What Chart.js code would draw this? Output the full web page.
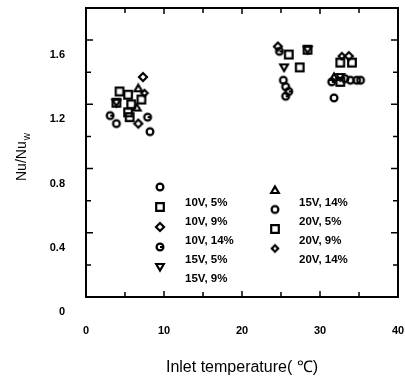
<!DOCTYPE html>
<html>
<head>
<meta charset="utf-8">
<script src="https://cdn.jsdelivr.net/npm/chart.js@4.4.0/dist/chart.umd.min.js"></script>
<style>
  html,body{margin:0;padding:0;background:#fff}
</style>
</head>
<body>
<canvas id="chart" width="405" height="380"></canvas>
<script>
// -------- DATA --------
const seriesLabels = ["10V, 5%", "10V, 9%", "10V, 14%", "15V, 5%", "15V, 9%",
                      "15V, 14%", "20V, 5%", "20V, 9%", "20V, 14%"];
const markerKinds = ["circle", "square", "diamond", "barCircle", "triDown",
                     "triUp", "oval", "square", "smallDiamond"];

const v10p5X  = [3.9, 8.2, 25.3, 31.8, 33.9];
const v10p5Y  = [1.08, 1.03, 1.35, 1.24, 1.35];
const v10p9X  = [4.3, 7.1, 28.4, 34.1];
const v10p9Y  = [1.28, 1.23, 1.54, 1.46];
const v10p14X = [7.3, 6.7, 33.7, 24.6];
const v10p14Y = [1.37, 1.08, 1.50, 1.56];
const v15p5X  = [3.1, 7.9, 24.8, 26.0, 25.6, 31.5];
const v15p5Y  = [1.13, 1.12, 1.53, 1.28, 1.25, 1.34];
const v15p9X  = [3.9, 25.4, 28.4, 32.6];
const v15p9Y  = [1.21, 1.43, 1.54, 1.37];
const v15p14X = [6.7, 6.5, 31.8];
const v15p14Y = [1.30, 1.18, 1.37];
const v20p5X  = [25.6, 33.2, 34.7, 35.2];
const v20p5Y  = [1.31, 1.36, 1.35, 1.35];
const v20p9X  = [5.4, 3.9, 5.8, 5.4, 5.6, 26.0, 27.4, 32.6, 32.6];
const v20p9Y  = [1.26, 1.21, 1.20, 1.15, 1.12, 1.51, 1.43, 1.46, 1.34];
const v20p14X = [7.5, 32.8];
const v20p14Y = [1.27, 1.50];

const allX = [v10p5X, v10p9X, v10p14X, v15p5X, v15p9X, v15p14X, v20p5X, v20p9X, v20p14X];
const allY = [v10p5Y, v10p9Y, v10p14Y, v15p5Y, v15p9Y, v15p14Y, v20p5Y, v20p9Y, v20p14Y];

const xMin = 0, xMax = 40, xStep = 5;
const yMin = 0, yMax = 1.8, yStep = 0.2;

const FONT = "'Liberation Sans', Arial, sans-serif";

// -------- MARKERS --------
function makeMarker(kind){
  const c = document.createElement("canvas");
  c.width = 12; c.height = 12;
  const g = c.getContext("2d");
  g.strokeStyle = "#000";
  g.fillStyle = "#000";
  g.lineWidth = 2.2;
  g.beginPath();
  if(kind === "circle" || kind === "oval"){
    g.arc(6, 6, 3.4, 0, Math.PI*2);
    g.stroke();
  } else if(kind === "barCircle"){
    g.arc(6, 6, 3.4, 0, Math.PI*2);
    g.moveTo(6, 6); g.lineTo(9.5, 6);
    g.stroke();
  } else if(kind === "square"){
    g.rect(2.2, 2.2, 7.6, 7.6);
    g.stroke();
  } else if(kind === "diamond"){
    g.moveTo(6, 2); g.lineTo(10, 6); g.lineTo(6, 10); g.lineTo(2, 6); g.closePath();
    g.stroke();
  } else if(kind === "smallDiamond"){
    g.moveTo(6, 2.8); g.lineTo(9.2, 6); g.lineTo(6, 9.2); g.lineTo(2.8, 6); g.closePath();
    g.stroke();
  } else if(kind === "triDown"){
    g.moveTo(2.2, 3); g.lineTo(9.8, 3); g.lineTo(6, 9.5); g.closePath();
    g.stroke();
  } else if(kind === "triUp"){
    g.moveTo(6, 2.5); g.lineTo(9.8, 9); g.lineTo(2.2, 9); g.closePath();
    g.stroke();
  }
  return c;
}
const markers = markerKinds.map(makeMarker);

// -------- DATASETS --------
const datasets = seriesLabels.map((lab, i) => ({
  label: lab,
  data: allX[i].map((x, j) => ({x: x, y: allY[i][j]})),
  pointStyle: markers[i],
  pointRadius: 6,
  pointHoverRadius: 6,
  showLine: false
}));

// fixed axis boxes so the plot area lands where the scan has it
function fixBox(s, size){
  if(s.isHorizontal()) s.height = size; else s.width = size;
  s.paddingLeft = 0; s.paddingRight = 0;
  s.paddingTop = 0; s.paddingBottom = 0;
}

// -------- FRAME / TICKS / LEGEND / Y TITLE --------
const framePlugin = {
  id: "frame",
  afterDraw(chart){
    const ctx = chart.ctx;
    const ca = chart.chartArea;
    const xs = chart.scales.x, ys = chart.scales.y;
    ctx.save();
    ctx.strokeStyle = "#000";
    ctx.lineWidth = 2;
    ctx.strokeRect(ca.left, ca.top, ca.right - ca.left, ca.bottom - ca.top);

    // inward ticks on all four sides
    ctx.lineWidth = 1.5;
    ctx.beginPath();
    xs.ticks.forEach(t => {
      const px = xs.getPixelForValue(t.value);
      const len = (t.value % 10 === 0) ? 6 : 5;
      ctx.moveTo(px, ca.bottom); ctx.lineTo(px, ca.bottom - len);
      ctx.moveTo(px, ca.top); ctx.lineTo(px, ca.top + len);
    });
    ys.ticks.forEach(t => {
      const py = ys.getPixelForValue(t.value);
      const len = (Math.round(t.value*10) % 4 === 0) ? 7 : 5;
      ctx.moveTo(ca.left, py); ctx.lineTo(ca.left + len, py);
      ctx.moveTo(ca.right, py); ctx.lineTo(ca.right - len, py);
    });
    ctx.stroke();

    // legend, two columns inside plot
    ctx.fillStyle = "#000";
    ctx.font = "bold 11.5px " + FONT;
    ctx.textBaseline = "middle";
    ctx.textAlign = "left";
    seriesLabels.forEach((lab, i) => {
      let mx, my, tx, ty;
      if(i < 5){
        mx = ca.left + 74; my = ca.top + 179 + i*20;
        tx = ca.left + 99; ty = ca.top + 195 + i*19;
      } else {
        const k = i - 5;
        mx = ca.left + 189; my = ca.top + 182 + k*19.5;
        tx = ca.left + 213; ty = ca.top + 195 + k*19;
      }
      ctx.drawImage(markers[i], mx - 6, my - 6);
      ctx.fillText(lab, tx, ty);
    });

    // y title with subscript
    ctx.translate(26, 181);
    ctx.rotate(-Math.PI/2);
    ctx.font = "14px " + FONT;
    ctx.textBaseline = "alphabetic";
    const main = "Nu/Nu";
    ctx.fillText(main, 0, 0);
    const w = ctx.measureText(main).width;
    ctx.font = "10px " + FONT;
    ctx.fillText("w", w + 1, 4);
    ctx.restore();
  }
};

// -------- CHART --------
new Chart(document.getElementById("chart"), {
  type: "scatter",
  data: {datasets},
  plugins: [framePlugin],
  options: {
    responsive: false,
    animation: false,
    events: [],
    layout: {padding: {top: 8, right: 5, left: 0, bottom: 0}},
    plugins: {legend: {display: false}, tooltip: {enabled: false}},
    scales: {
      x: {
        type: "linear", min: xMin, max: xMax,
        afterFit: s => fixBox(s, 83),
        grid: {display: false, drawTicks: false},
        border: {display: false},
        ticks: {
          stepSize: xStep, padding: 27, color: "#000",
          font: {family: FONT, size: 11, weight: "bold"},
          maxRotation: 0,
          callback: v => (v % 10 === 0 ? String(v) : "")
        },
        title: {
          display: true, text: "Inlet temperature( \u2103)", color: "#000",
          font: {family: FONT, size: 16}, padding: {top: 0, bottom: 3}
        }
      },
      y: {
        type: "linear", min: yMin, max: yMax,
        afterFit: s => fixBox(s, 86),
        grid: {display: false, drawTicks: false},
        border: {display: false},
        ticks: {
          stepSize: yStep, padding: 21, labelOffset: 15, color: "#000",
          font: {family: FONT, size: 11, weight: "bold"},
          callback: v => {
            const t = Math.round(v*10);
            if(t % 4 !== 0) return "";
            return t === 0 ? "0" : (t/10).toFixed(1);
          }
        }
      }
    }
  }
});
</script>
</body>
</html>
